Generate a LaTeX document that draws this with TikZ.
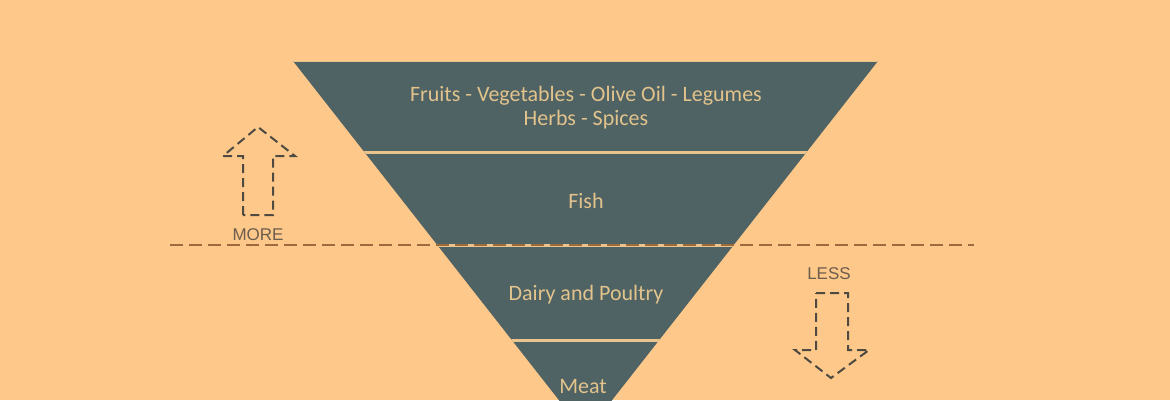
\documentclass[tikz,border=0pt]{standalone}
\usepackage{fontspec}
\setmainfont{Carlito}
\newfontfamily\arialfont{Liberation Sans}
\definecolor{bgpeach}{HTML}{FDC88A}
\definecolor{slate}{HTML}{4F6264}
\definecolor{tantext}{HTML}{E2C38C}
\definecolor{gapline}{HTML}{E9C48C}
\definecolor{dashbrown}{HTML}{9C6A3C}
\definecolor{arrowgray}{HTML}{4E4A42}
\definecolor{labelgray}{HTML}{6C5D4D}
\begin{document}
\begin{tikzpicture}[x=1pt,y=-1pt,
  bandtext/.style={text=tantext,font=\fontsize{22}{24}\selectfont,align=center,inner sep=0pt},
  sidelabel/.style={text=labelgray,font=\arialfont\fontsize{17}{19}\selectfont,inner sep=0pt},
  dasharrow/.style={draw=arrowgray,line width=2pt,dash pattern=on 9pt off 5pt,line join=miter},
  separator/.style={draw=gapline,line width=3pt},
  divider/.style={draw=dashbrown,line width=2.6pt,dash pattern=on 13pt off 6pt}]
\fill[bgpeach] (0,0) rectangle (1170,400);
\useasboundingbox (0,0) rectangle (1170,400);
% inverted pyramid
\begin{scope}
  \clip (0,0) rectangle (1170,400);
  \fill[slate] (293,61) -- (878,61) -- (585.5,434) -- cycle;
  \begin{scope}
    \clip (293,61) -- (878,61) -- (585.5,434) -- cycle;
    \draw[draw=gapline,line width=1pt] (280,61) -- (890,61);
    \draw[separator] (280,152.5) -- (890,152.5);
    \draw[separator] (280,245) -- (890,245);
    \draw[separator] (280,340.5) -- (890,340.5);
  \end{scope}
\end{scope}
% band labels
\node[bandtext] (b1) at (586,108) {Fruits - Vegetables - Olive Oil - Legumes\\Herbs - Spices};
\node[bandtext] (b2) at (586,201) {Fish};
\node[bandtext] (b3) at (586,295) {Dairy and Poultry};
\node[bandtext] (b4) at (583,387) {Meat};
% dashed divider
\coordinate (dl) at (170,245);
\coordinate (dr) at (974,245);
\draw[divider] (dl) -- (dr);
% MORE arrow
\draw[dasharrow] (243,215) -- (243,156) -- (223,156) -- (258,127) -- (295,156) -- (273,156) -- (273,215) -- cycle;
\node[sidelabel] (more) at (258,235) {MORE};
% LESS arrow
\draw[dasharrow] (816,293) -- (848,293) -- (848,350) -- (869,350) -- (831,378) -- (795,350) -- (816,350) -- cycle;
\node[sidelabel] (less) at (829,274) {LESS};
\end{tikzpicture}
\end{document}
